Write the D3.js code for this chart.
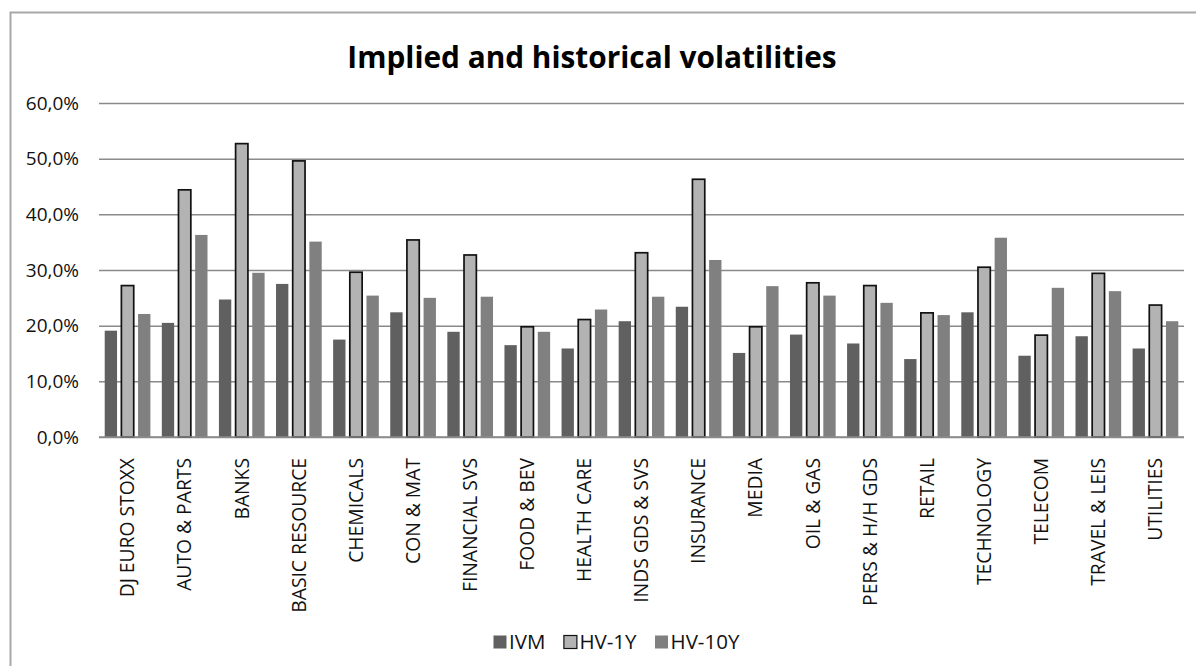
<!DOCTYPE html>
<html>
<head>
<meta charset="utf-8">
<script src="https://cdn.jsdelivr.net/npm/d3@7"></script>
<style>
  html, body { margin: 0; padding: 0; background: #fff; }
  svg { display: block; }
</style>
</head>
<body>
<svg id="chart" width="1196" height="666"></svg>
<script>
// Sector volatilities (%)
const categories = ["DJ EURO STOXX", "AUTO & PARTS", "BANKS", "BASIC RESOURCE", "CHEMICALS",
  "CON & MAT", "FINANCIAL SVS", "FOOD & BEV", "HEALTH CARE", "INDS GDS & SVS", "INSURANCE",
  "MEDIA", "OIL & GAS", "PERS & H/H GDS", "RETAIL", "TECHNOLOGY", "TELECOM", "TRAVEL & LEIS",
  "UTILITIES"];
const seriesNames = ["IVM", "HV-1Y", "HV-10Y"];
const ivm   = [19.1, 20.5, 24.7, 27.5, 17.5, 22.4, 18.9, 16.5, 15.9, 20.8, 23.4, 15.1, 18.4, 16.8, 14.0, 22.4, 14.6, 18.1, 15.9];
const hv1y  = [27.2, 44.4, 52.7, 49.6, 29.6, 35.4, 32.7, 19.8, 21.1, 33.1, 46.3, 19.8, 27.7, 27.2, 22.3, 30.5, 18.3, 29.4, 23.7];
const hv10y = [22.1, 36.3, 29.5, 35.1, 25.4, 25.0, 25.2, 18.9, 22.9, 25.2, 31.8, 27.1, 25.4, 24.1, 21.9, 35.8, 26.8, 26.2, 20.8];
const yTicks = [0, 10, 20, 30, 40, 50, 60];
const title = "Implied and historical volatilities";

const seriesValues = [ivm, hv1y, hv10y];
const fills   = ["#606060", "#b3b3b3", "#808080"];
const strokes = ["none", "#111", "none"];

const svg = d3.select("#chart");
const font = "'Open Sans', 'DejaVu Sans', sans-serif";

// outer chart frame
svg.append("rect")
  .attr("x", 10.5).attr("y", 12.5)
  .attr("width", 1230).attr("height", 700)
  .attr("fill", "none").attr("stroke", "#a8a8a8").attr("stroke-width", 2);

const plotLeft = 99, plotRight = 1184, plotTop = 103, plotBottom = 437;

const x0 = d3.scaleBand().domain(categories).range([plotLeft, plotRight])
  .paddingInner(0.2).paddingOuter(0.1);
const x1 = d3.scaleBand().domain(seriesNames).range([0, x0.bandwidth()])
  .paddingInner(0.26).paddingOuter(0);
const y = d3.scaleLinear().domain([0, 60]).range([plotBottom, plotTop]);

// title
svg.append("text")
  .attr("x", 592).attr("y", 68)
  .attr("text-anchor", "middle")
  .attr("font-family", font).attr("font-weight", 700)
  .attr("font-size", 29.8).attr("fill", "#000")
  .text(title);

// gridlines + y labels
const yAxis = d3.axisLeft(y).tickValues(yTicks)
  .tickSize(-(plotRight - plotLeft))
  .tickPadding(20)
  .tickFormat(d => d3.format(".1f")(d).replace(".", ",") + "%");
const gy = svg.append("g").attr("transform", `translate(${plotLeft},0)`).call(yAxis);
gy.select(".domain").remove();
gy.selectAll(".tick line").attr("stroke", "#8a8a8a").attr("stroke-width", 1.5);
gy.selectAll(".tick text")
  .attr("font-family", font).attr("font-size", 19).attr("fill", "#111");

// bars
const groups = svg.append("g").selectAll("g")
  .data(categories)
  .join("g")
  .attr("transform", d => `translate(${x0(d)},0)`);

groups.selectAll("rect")
  .data((d, i) => seriesNames.map((s, k) => ({ s, k, v: seriesValues[k][i] })))
  .join("rect")
  .attr("x", d => x1(d.s))
  .attr("y", d => y(d.v))
  .attr("width", x1.bandwidth())
  .attr("height", d => y(0) - y(d.v))
  .attr("fill", d => fills[d.k])
  .attr("stroke", d => strokes[d.k])
  .attr("stroke-width", 1.7);

// category axis
const xAxis = d3.axisBottom(x0).tickSize(0).tickPadding(0);
const gx = svg.append("g").attr("transform", `translate(0,${plotBottom})`).call(xAxis);
gx.select(".domain").attr("stroke", "#8a8a8a").attr("stroke-width", 1.5)
  .attr("d", `M${plotLeft},0H${plotRight}`);
gx.selectAll(".tick text")
  .attr("font-family", font).attr("font-size", 19.3).attr("fill", "#111")
  .attr("text-anchor", "end")
  .attr("transform", "rotate(-90)")
  .attr("x", -21).attr("y", 0).attr("dy", "0.35em");

// legend
const legend = svg.append("g").attr("transform", "translate(493,642)");
let lx = 0;
seriesNames.forEach((s, k) => {
  const item = legend.append("g").attr("transform", `translate(${lx},0)`);
  item.append("rect")
    .attr("x", 0.5).attr("y", -6.5).attr("width", 13).attr("height", 13)
    .attr("fill", fills[k]).attr("stroke", strokes[k]).attr("stroke-width", 1.2);
  const t = item.append("text")
    .attr("x", 16).attr("y", 0).attr("dy", "0.36em")
    .attr("font-family", font).attr("font-size", 20.5).attr("fill", "#111")
    .text(s);
  lx += 16 + t.node().getComputedTextLength() + 18;
});
</script>
</body>
</html>
